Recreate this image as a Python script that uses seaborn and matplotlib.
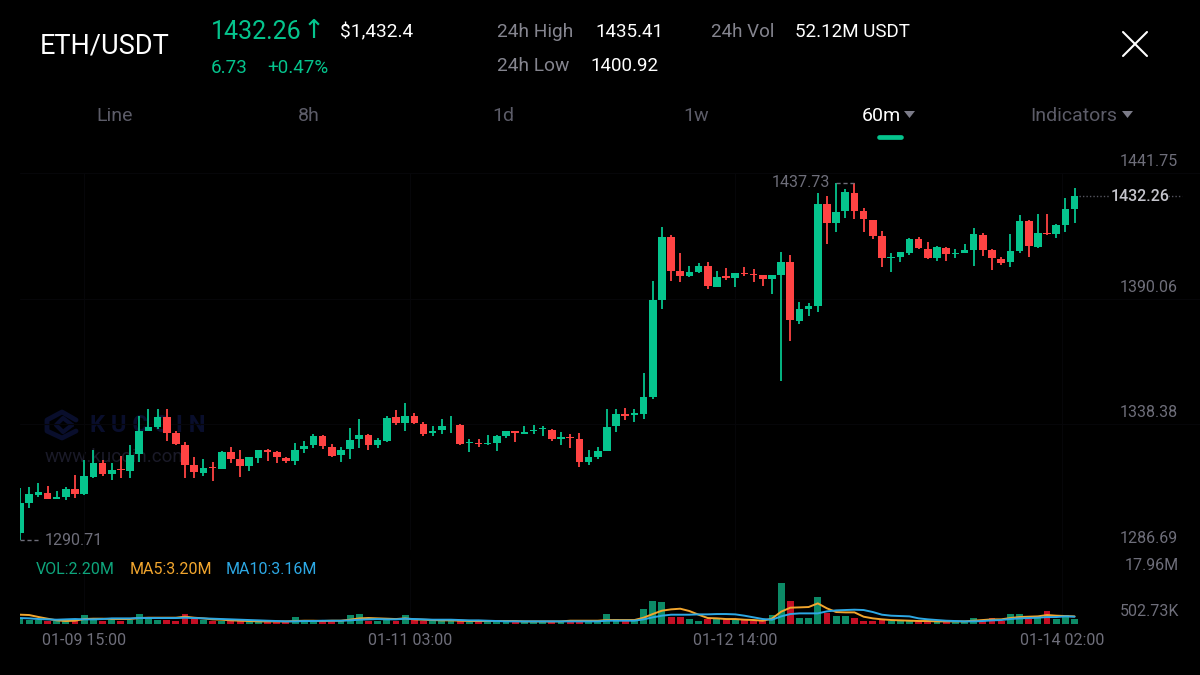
import matplotlib
matplotlib.use('Agg')
import matplotlib.pyplot as plt
import numpy as np
import pandas as pd
import seaborn as sns
from matplotlib.lines import Line2D
from matplotlib.patches import Polygon
from matplotlib.transforms import ScaledTranslation

# hourly candles
opens = [1293.7,1306.1,1309.2,1310.3,1307.6,1308.3,1311.6,1309.7,1316.8,1322.6,1317.9,1320.1,1319.3,1326.1,1335.7,1337.4,1341.2,1334.9,1329.8,1321.5,
         1318.4,1320.9,1320.2,1327.1,1324.2,1321.2,1324.6,1327.8,1326.9,1324.6,1323.1,1328.2,1329.7,1333.5,1329.0,1325.6,1328.2,1332.2,1333.8,1329.8,
         1331.6,1341.2,1339.0,1342.0,1338.6,1334.8,1335.9,1337.9,1338.1,1330.7,1330.9,1330.4,1330.8,1333.7,1335.5,1334.6,1335.5,1336.3,1336.0,1332.4,
         1333.0,1332.4,1322.8,1324.8,1327.5,1337.7,1342.7,1342.2,1342.6,1349.5,1389.5,1415.6,1401.5,1399.4,1400.9,1403.6,1395.0,1399.3,1398.7,1400.8,
         1400.3,1399.7,1398.1,1399.7,1405.2,1381.0,1386.0,1387.1,1428.8,1421.1,1426.1,1433.7,1426.1,1422.5,1415.9,1406.6,1407.1,1409.0,1414.8,1410.5,
         1406.8,1411.1,1408.4,1408.9,1410.1,1416.3,1410.0,1406.4,1405.1,1409.6,1421.9,1411.5,1417.1,1416.6,1420.3,1427.0]
closes = [1306.1,1309.7,1310.6,1307.6,1308.6,1311.6,1309.7,1317.1,1322.6,1317.8,1319.5,1319.5,1325.7,1335.7,1337.4,1341.2,1334.9,1330.1,1321.6,1318.6,
          1320.6,1320.5,1327.1,1324.2,1321.2,1324.8,1327.8,1327.2,1324.8,1323.1,1328.0,1329.6,1333.5,1329.4,1325.3,1328.0,1331.9,1333.8,1330.0,1331.9,
          1340.8,1338.8,1342.0,1338.8,1334.4,1335.6,1337.7,1338.3,1330.2,1331.1,1330.4,1330.9,1333.5,1335.5,1334.9,1335.2,1336.0,1336.8,1332.2,1333.0,
          1332.6,1323.0,1324.8,1327.5,1337.4,1342.6,1341.8,1342.9,1349.5,1389.5,1415.6,1401.6,1399.4,1400.9,1403.6,1395.3,1399.0,1398.5,1400.5,1400.3,
          1399.8,1398.3,1399.7,1405.2,1381.2,1385.7,1387.1,1428.8,1421.1,1425.8,1433.9,1426.2,1422.8,1415.9,1406.6,1407.1,1409.2,1414.8,1410.7,1406.7,
          1411.2,1408.4,1408.8,1409.9,1416.6,1410.0,1406.7,1404.8,1409.7,1421.9,1411.8,1417.0,1416.6,1420.2,1426.9,1432.26]
highs = [1312.0,1312.7,1314.3,1312.9,1310.9,1312.7,1317.5,1323.7,1327.8,1323.7,1322.3,1325.3,1329.8,1341.8,1344.5,1344.5,1344.5,1335.7,1331.2,1324.8,
         1324.1,1323.0,1327.4,1329.1,1328.0,1325.0,1328.0,1328.3,1327.5,1325.0,1330.8,1331.5,1334.6,1333.8,1330.2,1329.1,1337.0,1340.4,1334.4,1332.6,
         1341.8,1344.2,1347.0,1342.9,1339.3,1337.7,1340.4,1341.8,1338.5,1332.2,1332.4,1334.1,1333.8,1335.7,1335.6,1337.7,1337.9,1337.5,1336.3,1335.3,
         1334.6,1334.9,1327.8,1329.1,1344.8,1344.7,1344.9,1344.7,1359.6,1397.5,1419.7,1416.3,1408.8,1403.6,1404.6,1405.2,1401.6,1402.7,1400.7,1403.0,
         1402.3,1399.7,1400.0,1409.4,1408.2,1388.7,1388.4,1433.5,1432.1,1437.73,1435.1,1437.6,1427.4,1422.5,1418.1,1409.0,1409.2,1414.9,1415.6,1413.2,
         1411.8,1411.4,1410.4,1412.7,1419.1,1416.9,1410.5,1407.4,1416.6,1424.4,1422.4,1424.8,1425.0,1420.7,1431.3,1435.5]
lows = [1290.71,1303.9,1308.3,1307.5,1307.5,1307.2,1307.9,1309.4,1316.2,1317.1,1315.4,1316.4,1316.2,1323.0,1335.7,1336.3,1331.5,1329.8,1316.5,1316.2,
        1317.3,1315.0,1319.9,1322.3,1316.8,1319.3,1322.6,1323.2,1322.3,1322.3,1321.5,1326.7,1328.6,1328.3,1324.8,1323.0,1324.3,1328.5,1327.8,1328.6,
        1331.3,1338.3,1335.5,1338.5,1333.7,1333.5,1334.2,1334.9,1330.0,1327.1,1328.9,1329.7,1327.4,1332.6,1331.1,1334.2,1334.2,1333.7,1331.6,1329.7,
        1328.7,1320.9,1321.7,1324.2,1327.4,1335.3,1340.1,1339.2,1340.4,1349.0,1385.8,1397.4,1397.1,1398.9,1400.5,1393.9,1394.8,1397.6,1394.8,1399.2,
        1396.8,1395.3,1392.0,1356.3,1372.8,1379.7,1383.0,1384.7,1412.6,1417.4,1423.3,1422.9,1417.4,1414.5,1403.0,1401.1,1405.3,1408.2,1410.4,1406.4,
        1405.6,1405.6,1406.8,1408.8,1403.7,1407.5,1401.8,1404.0,1403.0,1409.0,1407.0,1410.7,1416.3,1414.9,1417.5,1421.0]

# volume and its moving averages, millions
volumes = [2.39,1.66,1.52,1.08,1.08,1.96,1.37,3.70,1.96,1.08,1.66,1.23,1.81,4.28,2.39,1.66,1.81,1.37,4.28,1.96,
           1.81,1.23,1.37,1.08,1.23,1.37,1.08,0.94,0.94,0.94,2.97,1.37,1.23,1.08,1.08,1.08,3.85,4.14,1.37,1.37,
           2.10,1.23,3.85,1.66,1.37,1.37,1.81,2.10,1.37,0.94,0.94,0.94,0.94,0.94,0.94,0.94,0.94,0.94,0.94,0.94,
           0.94,1.52,1.08,1.08,4.28,2.10,1.37,1.66,6.61,9.81,9.38,3.12,2.83,2.10,1.23,2.10,2.68,1.96,1.96,1.52,
           1.37,1.23,3.70,17.96,9.81,2.68,2.39,11.85,4.57,3.26,3.26,2.68,1.37,1.23,1.96,1.37,1.37,1.23,1.08,1.08,
           0.94,0.94,0.94,0.94,2.39,1.37,2.54,1.37,4.28,4.28,1.96,2.39,5.45,1.96,3.85,2.20]
ma5 = [4.0,3.85,3.0,2.25,1.52,1.23,1.37,2.10,2.25,2.25,2.10,2.10,2.10,2.54,2.68,2.68,2.68,2.68,3.12,2.68,
       2.39,1.96,1.81,1.52,1.37,1.23,1.08,1.08,1.08,1.08,1.23,1.37,1.37,1.23,1.37,1.37,1.81,2.39,2.54,2.39,
       2.25,2.10,2.39,1.96,1.81,1.66,1.52,1.52,1.37,1.23,1.23,1.23,1.23,1.23,1.23,1.08,1.08,1.08,1.08,1.08,
       1.37,1.37,1.37,1.37,1.66,1.66,1.66,1.66,2.68,4.28,5.74,6.32,6.61,5.59,3.99,2.54,2.39,2.10,2.10,1.81,
       1.66,1.37,2.25,5.30,7.05,7.19,7.34,8.94,6.76,5.16,5.01,5.01,3.12,2.39,1.96,1.66,1.52,1.37,1.23,1.23,
       1.08,1.08,1.08,1.08,1.37,1.66,1.96,1.96,2.54,2.97,3.12,3.26,3.85,3.56,3.41,3.26]
ma10 = [2.54,2.39,2.10,1.96,1.81,1.96,2.10,1.96,1.96,2.10,2.39,2.39,2.39,2.54,2.54,2.54,2.54,2.54,2.68,2.54,
        2.39,2.25,2.10,1.96,1.81,1.66,1.52,1.37,1.23,1.08,1.08,1.23,1.23,1.37,1.37,1.37,1.52,1.81,1.96,2.10,
        1.96,1.96,2.25,2.10,1.96,1.81,1.81,1.81,1.66,1.52,1.52,1.37,1.23,1.08,1.08,1.08,1.08,1.08,1.08,1.08,
        1.08,1.08,1.08,1.08,1.37,1.37,1.37,1.37,1.96,2.83,3.56,3.99,3.99,3.99,4.14,4.14,4.28,4.28,4.14,3.56,
        2.83,2.10,1.81,3.26,4.28,4.57,4.57,4.57,5.45,5.88,6.03,6.17,6.03,5.16,3.99,3.56,3.41,3.26,2.39,1.96,
        1.66,1.37,1.23,1.08,1.08,1.23,1.52,1.66,2.10,2.39,2.54,2.68,2.97,2.97,3.26,3.12]

price_ticks = [1441.75, 1390.06, 1338.38, 1286.69]
price_labels = ['1441.75', '1390.06', '1338.38', '1286.69']
time_ticks = [7, 42.5, 78, 113.6]
time_labels = ['01-09 15:00', '01-11 03:00', '01-12 14:00', '01-14 02:00']
tabs = ['Line', '8h', '1d', '1w']

GREEN = '#05c48d'
RED = '#ff4343'
GREY = '#6e6e7a'
LABEL = '#85858f'
MARK = '#090e2c'

sns.set_theme(style='dark', rc={'figure.facecolor': 'black', 'axes.facecolor': 'black', 'savefig.facecolor': 'black'})
plt.rcParams['font.family'] = ['Roboto', 'DejaVu Sans']

df = pd.DataFrame({'i': np.arange(len(opens)), 'open': opens, 'close': closes, 'high': highs, 'low': lows,
                   'vol': volumes, 'ma5': ma5, 'ma10': ma10})
df['side'] = np.where(df['close'] >= df['open'], 'up', 'down')
df['bottom'] = df[['open', 'close']].min(axis=1)
df['body'] = (df['close'] - df['open']).abs()

fig = plt.figure(figsize=(12, 6.75), dpi=100)
W, H = 1200, 675


def ax_box(x0, y0, x1, y1):
    return [x0 / W, 1 - y1 / H, (x1 - x0) / W, (y1 - y0) / H]


def label(x, y, s, color='white', size=14, ha='left', **kw):
    fig.text(x / W, 1 - y / H, s, color=color, fontsize=size, ha=ha, va='center', **kw)


def fline(pts, color='white', lw=1.5, zorder=3, **kw):
    xs = [p[0] / W for p in pts]
    ys = [1 - p[1] / H for p in pts]
    return Line2D(xs, ys, color=color, lw=lw, zorder=zorder, transform=fig.transFigure, **kw)


# panes start at the first candle so it gets cut in half like the app does
ax = fig.add_axes(ax_box(20, 173, W, 550))
vax = fig.add_axes(ax_box(20, 560, W, 625))
xlim = (0, 1180 / 9.17)

# watermark sits under the candles
ax.text(90 / W, 1 - 425 / H, 'K U C O I N', transform=fig.transFigure, color=MARK, fontsize=17, fontweight='bold',
        va='center', zorder=0)
ax.text(45 / W, 1 - 457 / H, 'www.kucoin.com', transform=fig.transFigure, color='#1a1a28', fontsize=13.5, va='center', zorder=0)
ax.add_line(fline([(76, 420), (62, 412), (47, 420), (47, 431), (62, 438), (76, 431)], MARK, 3.5, 0))
ax.add_line(fline([(72, 425), (63, 418), (56, 425), (63, 432), (72, 425)], MARK, 3, 0))

ax.vlines(df['i'], df['low'], df['high'], colors=np.where(df['side'] == 'up', GREEN, RED), lw=1.3, zorder=2)
for side, col in [('up', GREEN), ('down', RED)]:
    sub = df[df['side'] == side]
    sns.barplot(data=sub, x='i', y='body', color=col, native_scale=True, bottom=sub['bottom'].values, width=0.83,
                saturation=1, errorbar=None, linewidth=0, ax=ax, zorder=3)

ax.set_xlim(xlim)
ax.set_ylim(1286.69, 1441.75)
ax.set_xticks(time_ticks)
ax.set_xticklabels([])
ax.set_xlabel('')
ax.set_ylabel('')
ax.yaxis.tick_right()
ax.set_yticks(price_ticks)
ax.set_yticklabels(price_labels, color=GREY, fontsize=11.5, ha='right', va='bottom')
ax.tick_params(axis='y', pad=-16, length=0)
ax.tick_params(axis='x', length=0)
lift = ScaledTranslation(0, 3 / 72, fig.dpi_scale_trans)
for t in ax.get_yticklabels():
    t.set_transform(t.get_transform() + lift)
ax.grid(True, color='#060609', lw=0.8)
sns.despine(ax=ax, left=True, bottom=True, right=True, top=True)

# high / low / last price markers
ax.plot([89, 91], [1437.73, 1437.73], color=GREY, lw=1, ls=(0, (3, 2)), zorder=4)
ax.plot([0, 2.2], [1290.71, 1290.71], color=GREY, lw=1, ls=(0, (3, 2)), zorder=4)
ax.text(89 - 0.7, 1437.73, '1437.73', color=GREY, fontsize=11.5, ha='right', va='center')
ax.text(2.7, 1290.71, '1290.71', color=GREY, fontsize=11.5, ha='left', va='center')
ax.plot([115.5, 118.8], [1432.26, 1432.26], color='#55555f', lw=1, ls=(0, (1, 1.5)), zorder=4)
ax.plot([125.2, 126.7], [1432.26, 1432.26], color='#55555f', lw=1, ls=(0, (1, 1.5)), zorder=4)
ax.text(118.9, 1432.26, '1432.26', color='#c4c4cc', fontsize=11.5, ha='left', va='center', fontweight='medium')

# volume pane
sns.barplot(data=df, x='i', y='vol', hue='side', palette={'up': '#0c8a66', 'down': '#c40f24'}, dodge=False, native_scale=True,
            width=0.75, saturation=1, errorbar=None, legend=False, linewidth=0, ax=vax)
sns.lineplot(data=df, x='i', y='ma5', color='#f2a62e', lw=1.4, ax=vax, zorder=5)
sns.lineplot(data=df, x='i', y='ma10', color='#2da8e4', lw=1.4, ax=vax, zorder=6)
vax.set_xlim(xlim)
vax.set_ylim(0.5 - 2.3 * 0.4365, 0.5 + 62.7 * 0.4365)
vax.set_yticks([])
vax.set_xticks(time_ticks)
vax.set_xticklabels(time_labels, color=GREY, fontsize=11.5)
vax.tick_params(axis='x', length=0, pad=6)
vax.set_xlabel('')
vax.set_ylabel('')
vax.grid(True, axis='x', color='#060609', lw=0.8)
sns.despine(ax=vax, left=True, bottom=True, right=True, top=True)

label(36, 569, 'VOL:2.20M', '#0ea57c', 11.5)
label(130, 569, 'MA5:3.20M', '#f2a62e', 11.5)
label(226, 569, 'MA10:3.16M', '#2da8e4', 11.5)
label(1179, 565, '17.96M', GREY, 11.5, ha='right')
label(1179, 611, '502.73K', GREY, 11.5, ha='right')

# header
label(40, 46, 'ETH/USDT', 'white', 19.5)
label(211, 32, '1432.26', GREEN, 18)
label(303, 31, '↑', GREEN, 19)
label(340, 32, '$1,432.4', 'white', 13.8)
label(211, 68, '6.73', GREEN, 13.5)
label(267, 68, '+0.47%', GREEN, 13.5)
label(497, 32, '24h High', LABEL, 13.8)
label(595, 32, '1435.41', 'white', 13.5)
label(497, 66, '24h Low', LABEL, 13.8)
label(590, 66, '1400.92', 'white', 13.5)
label(711, 32, '24h Vol', LABEL, 13.5)
label(795, 32, '52.12M USDT', 'white', 13.5)

for x, t in zip([115, 309, 503, 696], tabs):
    label(x, 116, t, '#5c5c68', 14, ha='center')
label(862, 116, '60m', 'white', 14)
label(1030, 116, 'Indicators', '#5c5c68', 14)
for x0 in [904, 1122]:
    fig.add_artist(Polygon([(x0 / W, 1 - 111 / H), ((x0 + 11) / W, 1 - 111 / H), ((x0 + 5.5) / W, 1 - 118 / H)],
                           closed=True, color='#7b7b88', lw=0))
fig.add_artist(fline([(879, 136.5), (901, 136.5)], GREEN, 3.4, solid_capstyle='round'))
fig.add_artist(fline([(1123, 32), (1147, 56)], 'white', 1.5))
fig.add_artist(fline([(1123, 56), (1147, 32)], 'white', 1.5))

fig.savefig('out.png', dpi=100)
